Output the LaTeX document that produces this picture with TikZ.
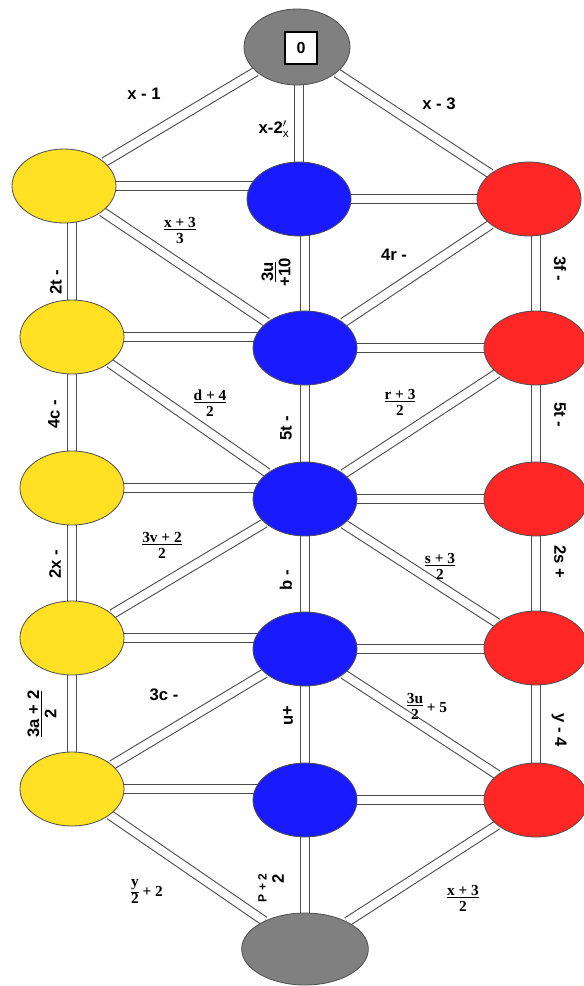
\documentclass[tikz,border=0pt]{standalone}
\usepackage{fontspec}
\setmainfont{Liberation Sans}
\newfontfamily\serfont{Liberation Serif}
\usepackage{tikz}
\usetikzlibrary{shapes.geometric,backgrounds}
\definecolor{ballyellow}{HTML}{FFE022}
\definecolor{ballblue}{HTML}{1A1AFF}
\definecolor{ballred}{HTML}{FF2626}
\definecolor{ballgray}{HTML}{808080}
\definecolor{rim}{HTML}{4D4D4D}

\begin{document}
\begin{tikzpicture}[
    x=0.75pt, y=-0.75pt,
    ball/.style={ellipse, draw=rim, line width=0.6pt, minimum width=78pt, minimum height=55.5pt, inner sep=0pt},
    yball/.style={ball, fill=ballyellow},
    bball/.style={ball, fill=ballblue},
    rball/.style={ball, fill=ballred},
    gball/.style={ball, fill=ballgray},
    link/.style={draw=black!70, line width=0.8pt, double=white, double distance=6pt},
    lab/.style={font=\fontsize{12.5}{13}\selectfont\bfseries, inner sep=1pt},
    frac/.style={font=\fontsize{11.5}{12}\selectfont\serfont\bfseries, align=center, inner sep=1pt}
]
    \useasboundingbox (0,0) rectangle (584,986);

    % Top and bottom
    \node[gball, minimum width=79.5pt, minimum height=57pt] (top) at (297,47) {};
    \node[draw=black, fill=white, line width=0.8pt, minimum width=24pt, minimum height=24pt, font=\fontsize{12}{13}\selectfont\bfseries] (zero) at (301,48) {0};
    \node[gball, minimum width=95pt, minimum height=54pt] (bot) at (305,949) {};

    % Yellow column
    \node[yball] (y1) at (64,186) {};
    \node[yball] (y2) at (72,337) {};
    \node[yball] (y3) at (72,488) {};
    \node[yball] (y4) at (72,638) {};
    \node[yball] (y5) at (72,789) {};

    % Blue column
    \node[bball] (b1) at (299,199) {};
    \node[bball] (b2) at (305,348) {};
    \node[bball] (b3) at (305,499) {};
    \node[bball] (b4) at (305,649) {};
    \node[bball] (b5) at (305,800) {};

    % Red column
    \node[rball] (r1) at (529,199) {};
    \node[rball] (r2) at (536,348) {};
    \node[rball] (r3) at (536,499) {};
    \node[rball] (r4) at (536,648) {};
    \node[rball] (r5) at (536,800) {};

    % Links
    \begin{scope}[on background layer]
        \draw[link] (top) -- (y1);
        \draw[link] (b1) -- (b1 |- top);
        \draw[link] (top) -- (r1);

        \draw[link] (y1) -- (y1 -| b1);
        \draw[link] (b1) -- (b1 -| r1);
        \draw[link] (y2) -- (y2 |- y1);
        \draw[link] (b2) -- (b2 |- b1);
        \draw[link] (r2) -- (r2 |- r1);
        \draw[link] (y1) -- (b2);
        \draw[link] (r1) -- (b2);

        \draw[link] (y2) -- (y2 -| b2);
        \draw[link] (b2) -- (b2 -| r2);
        \draw[link] (y2) -- (y3);
        \draw[link] (b2) -- (b3);
        \draw[link] (r2) -- (r3);
        \draw[link] (y2) -- (b3);
        \draw[link] (r2) -- (b3);

        \draw[link] (y3) -- (y3 -| b3);
        \draw[link] (b3) -- (b3 -| r3);
        \draw[link] (y3) -- (y4);
        \draw[link] (b3) -- (b4);
        \draw[link] (r3) -- (r4);
        \draw[link] (b3) -- (y4);
        \draw[link] (b3) -- (r4);

        \draw[link] (y4) -- (y4 -| b4);
        \draw[link] (b4) -- (b4 -| r4);
        \draw[link] (y4) -- (y5);
        \draw[link] (b4) -- (b5);
        \draw[link] (r4) -- (r5);
        \draw[link] (b4) -- (y5);
        \draw[link] (b4) -- (r5);

        \draw[link] (y5) -- (y5 -| b5);
        \draw[link] (b5) -- (b5 -| r5);
        \draw[link] (y5) -- (bot);
        \draw[link] (b5) -- (bot);
        \draw[link] (r5) -- (bot);
    \end{scope}

    % Labels
    \node[lab] (lx1) at (144,94) {x - 1};
    \node[lab] (lx2) at (274,129) {x-2$^{\prime}_{\mathrm{x}}$};
    \node[lab] (lx3) at (439,104) {x - 3};

    \node[frac] (lfx3) at (180,230) {\underline{x + 3}\\3};
    \node[lab, rotate=90, align=center] (l3u) at (276,272) {\underline{3u}\\+10};
    \node[lab] (l4r) at (394,255) {4r -};
    \node[lab, rotate=90] (l2t) at (56,282) {2t -};
    \node[lab, rotate=-90] (l3f) at (560,269) {3f -};

    \node[frac] (ld4) at (210,403) {\underline{d + 4}\\2};
    \node[frac] (lr3) at (400,402) {\underline{r + 3}\\2};
    \node[lab, rotate=90] (l4c) at (54,414) {4c -};
    \node[lab, rotate=90] (l5t) at (286,428) {5t -};
    \node[lab, rotate=-90] (l5f) at (560,415) {5t -};

    \node[frac] (l3v) at (162,545) {\underline{3v + 2}\\2};
    \node[frac] (ls3) at (440,566) {\underline{s + 3}\\2};
    \node[lab, rotate=90] (l2x) at (55,564) {2x -};
    \node[lab, rotate=90] (lb) at (286,580) {b -};
    \node[lab, rotate=-90] (l2s) at (560,562) {2s +};

    \node[lab, rotate=90, align=center] (l3a) at (42,714) {\underline{3a + 2}\\2};
    \node[lab] (l3c) at (164,695) {3c -};
    \node[lab, rotate=90] (lu) at (288,716) {u+};
    \node[frac] (l3u5) at (427,708) {\begin{tabular}{@{}c@{}}\underline{3u}\\2\end{tabular} + 5};
    \node[lab, rotate=-90] (ly4) at (559,730) {y - 4};

    \node[frac] (ly2) at (147,892) {\begin{tabular}{@{}c@{}}\underline{y}\\2\end{tabular} + 2};
    \node[lab, rotate=90, align=right] (lp2) at (271,888) {{\fontsize{9}{10}\selectfont P + 2}\\2};
    \node[frac] (lx3b) at (463,898) {\underline{x + 3}\\2};
\end{tikzpicture}
\end{document}
